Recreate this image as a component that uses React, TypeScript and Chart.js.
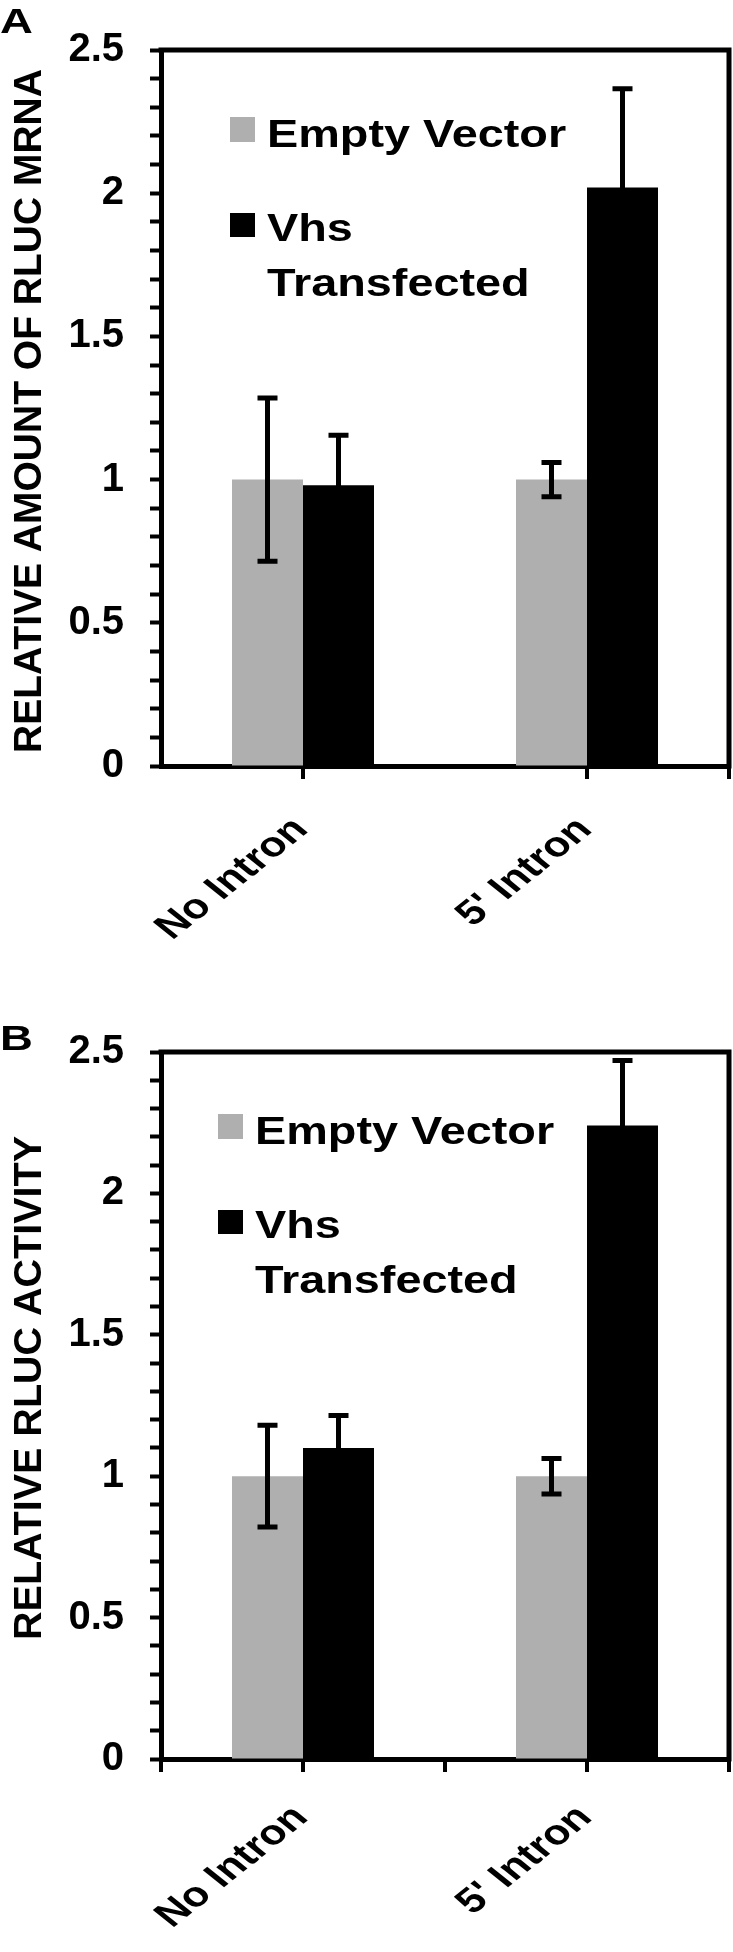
import React, { useEffect, useRef } from "react";
import { Chart, registerables } from "chart.js";

Chart.register(...registerables);

// ---------- data ----------
const categories = ["No Intron", "5' Intron"];
const seriesNames = ["Empty Vector", "Vhs Transfected"];
const yMajorTicks = [0, 0.5, 1, 1.5, 2, 2.5];

const mrnaEmpty = [1.0, 1.0];
const mrnaEmptyErr = [0.285, 0.06];
const mrnaVhs = [0.98, 2.02];
const mrnaVhsErr = [0.175, 0.345];

const activityEmpty = [1.0, 1.0];
const activityEmptyErr = [0.18, 0.063];
const activityVhs = [1.1, 2.24];
const activityVhsErr = [0.115, 0.23];

// ---------- styles ----------
const FONT = "'Liberation Sans', Arial, Helvetica, sans-serif";
const GRAY = "#afafaf";
const BLACK = "#000000";
const W = 733;
const H = 976;

type Panel = {
  letter: string;
  letterY: number;
  title: string;
  titleSize: number;
  titleCenterY: number;
  empty: number[];
  emptyErr: number[];
  vhs: number[];
  vhsErr: number[];
  padTop: number;
  xAxisHeight: number;
  xLabelDy: number;
  legendLeft: number;
  legendTop: number;
  allTicks: boolean;
};

const panels: Panel[] = [
  {
    letter: "A",
    letterY: 33,
    title: "RELATIVE AMOUNT OF RLUC MRNA",
    titleSize: 39,
    titleCenterY: 411,
    empty: mrnaEmpty,
    emptyErr: mrnaEmptyErr,
    vhs: mrnaVhs,
    vhsErr: mrnaVhsErr,
    padTop: 47,
    xAxisHeight: 210,
    xLabelDy: 58,
    legendLeft: 230,
    legendTop: 117,
    allTicks: false,
  },
  {
    letter: "B",
    letterY: 74,
    title: "RELATIVE RLUC ACTIVITY",
    titleSize: 39.5,
    titleCenterY: 412,
    empty: activityEmpty,
    emptyErr: activityEmptyErr,
    vhs: activityVhs,
    vhsErr: activityVhsErr,
    padTop: 76,
    xAxisHeight: 193,
    xLabelDy: 53,
    legendLeft: 218,
    legendTop: 138,
    allTicks: true,
  },
];

function isMajor(v: number) {
  return yMajorTicks.some((m) => Math.abs(m - v) < 1e-6);
}

function stretchedText(ctx: CanvasRenderingContext2D, text: string, x: number, y: number, k: number) {
  ctx.save();
  ctx.translate(x, y);
  ctx.scale(k, 1);
  ctx.fillText(text, 0, 0);
  ctx.restore();
}

function makeChart(canvas: HTMLCanvasElement, p: Panel) {
  const errorBars = {
    id: "errorBars",
    afterDatasetsDraw(chart: any) {
      const ctx = chart.ctx;
      const yScale = chart.scales.y;
      ctx.save();
      ctx.strokeStyle = BLACK;
      ctx.lineCap = "butt";
      chart.data.datasets.forEach((ds: any, di: number) => {
        const meta = chart.getDatasetMeta(di);
        meta.data.forEach((el: any, i: number) => {
          const v = ds.data[i];
          const e = ds.errors[i];
          const x = el.x;
          const yt = yScale.getPixelForValue(v + e);
          const yb = yScale.getPixelForValue(v - e);
          ctx.lineWidth = 5;
          ctx.beginPath();
          ctx.moveTo(x, yt);
          ctx.lineTo(x, yb);
          ctx.stroke();
          ctx.beginPath();
          ctx.moveTo(x - 10, yt);
          ctx.lineTo(x + 10, yt);
          ctx.moveTo(x - 10, yb);
          ctx.lineTo(x + 10, yb);
          ctx.stroke();
        });
      });
      ctx.restore();
    },
  };

  const frame = {
    id: "frame",
    afterDraw(chart: any) {
      const ctx = chart.ctx;
      const a = chart.chartArea;
      const xs = chart.scales.x;
      ctx.save();
      ctx.strokeStyle = BLACK;
      ctx.fillStyle = BLACK;
      ctx.lineWidth = 5;
      ctx.beginPath();
      ctx.moveTo(a.left - 2.5, a.top);
      ctx.lineTo(a.right, a.top);
      ctx.lineTo(a.right, a.bottom + 2.5);
      ctx.stroke();
      // x-axis tick marks
      const c0 = xs.getPixelForValue(0);
      const c1 = xs.getPixelForValue(1);
      const half = (c1 - c0) / 2;
      const ticks: number[] = [];
      categories.forEach((_, i) => {
        const c = xs.getPixelForValue(i);
        if (p.allTicks) ticks.push(c - half);
        ticks.push(c);
      });
      ticks.push(xs.getPixelForValue(categories.length - 1) + half);
      ctx.lineWidth = 4;
      ticks.forEach((t) => {
        const tx = Math.min(t, a.right);
        ctx.beginPath();
        ctx.moveTo(tx, a.bottom);
        ctx.lineTo(tx, a.bottom + 13);
        ctx.stroke();
      });
      // x category labels (rotated, horizontally stretched like the original)
      ctx.font = `bold 35px ${FONT}`;
      ctx.textAlign = "right";
      ctx.textBaseline = "middle";
      categories.forEach((lab, i) => {
        const x = xs.getPixelForValue(i) - 2;
        const y = a.bottom + p.xLabelDy;
        ctx.save();
        ctx.translate(x, y);
        ctx.scale(1.25, 1);
        ctx.rotate(-Math.PI / 4);
        ctx.fillText(lab, 0, 0);
        ctx.restore();
      });
      // y axis title
      ctx.save();
      ctx.font = `bold ${p.titleSize}px ${FONT}`;
      ctx.textAlign = "center";
      ctx.textBaseline = "middle";
      ctx.translate(30, p.titleCenterY);
      ctx.rotate(-Math.PI / 2);
      ctx.fillText(p.title, 0, 0);
      ctx.restore();
      // legend
      const L = p.legendLeft;
      const T = p.legendTop;
      ctx.fillStyle = GRAY;
      ctx.fillRect(L, T, 25, 25);
      ctx.fillStyle = BLACK;
      ctx.fillRect(L, T + 96, 25, 24);
      ctx.font = `bold 39px ${FONT}`;
      ctx.textBaseline = "alphabetic";
      ctx.textAlign = "left";
      stretchedText(ctx, seriesNames[0], L + 37, T + 30, 1.2);
      const parts = seriesNames[1].split(" ");
      stretchedText(ctx, parts[0], L + 37, T + 124, 1.2);
      stretchedText(ctx, parts[1], L + 37, T + 179, 1.2);
      // panel letter
      ctx.font = `bold 35px ${FONT}`;
      stretchedText(ctx, p.letter, 0, p.letterY, 1.3);
      ctx.restore();
    },
  };

  return new Chart(canvas, {
    type: "bar",
    data: {
      labels: categories,
      datasets: [
        {
          label: seriesNames[0],
          data: p.empty,
          errors: p.emptyErr,
          backgroundColor: GRAY,
          borderWidth: 0,
        } as any,
        {
          label: seriesNames[1],
          data: p.vhs,
          errors: p.vhsErr,
          backgroundColor: BLACK,
          borderWidth: 0,
        } as any,
      ],
    },
    options: {
      responsive: false,
      maintainAspectRatio: false,
      animation: false,
      devicePixelRatio: 1,
      layout: { padding: { top: p.padTop, right: 4, left: 0, bottom: 0 } },
      datasets: { bar: { categoryPercentage: 0.5, barPercentage: 1.0 } },
      plugins: {
        legend: { display: false },
        tooltip: { enabled: false },
        title: { display: false },
      },
      scales: {
        x: {
          type: "category",
          offset: true,
          grid: { display: false, drawTicks: false },
          border: { display: true, color: BLACK, width: 5 },
          ticks: { display: false },
          afterFit: (s: any) => {
            s.height = p.xAxisHeight;
          },
        },
        y: {
          min: 0,
          max: 2.5,
          ticks: {
            stepSize: 0.1,
            autoSkip: false,
            maxTicksLimit: 100,
            color: BLACK,
            padding: 26,
            font: { family: FONT, size: 40, weight: "bold" },
            callback: (v: any) => (isMajor(Number(v)) ? String(Math.round(Number(v) * 10) / 10) : ""),
          },
          grid: {
            drawOnChartArea: false,
            drawTicks: true,
            tickLength: 11,
            tickWidth: 4,
            color: BLACK,
          },
          border: { display: true, color: BLACK, width: 5 },
          title: { display: false },
          afterFit: (s: any) => {
            s.width = 161;
          },
        },
      },
    } as any,
    plugins: [errorBars, frame],
  });
}

function PanelChart({ panel, top }: { panel: Panel; top: number }) {
  const ref = useRef<HTMLCanvasElement | null>(null);
  useEffect(() => {
    if (!ref.current) return;
    const chart = makeChart(ref.current, panel);
    return () => chart.destroy();
  }, [panel]);
  return (
    <canvas
      ref={ref}
      width={W}
      height={H}
      style={{ position: "absolute", left: 0, top, width: W, height: H }}
    />
  );
}

export default function App() {
  return (
    <div
      style={{
        position: "absolute",
        left: 0,
        top: 0,
        width: W,
        height: H * 2,
        background: "#ffffff",
      }}
    >
      <PanelChart panel={panels[0]} top={0} />
      <PanelChart panel={panels[1]} top={H} />
    </div>
  );
}
